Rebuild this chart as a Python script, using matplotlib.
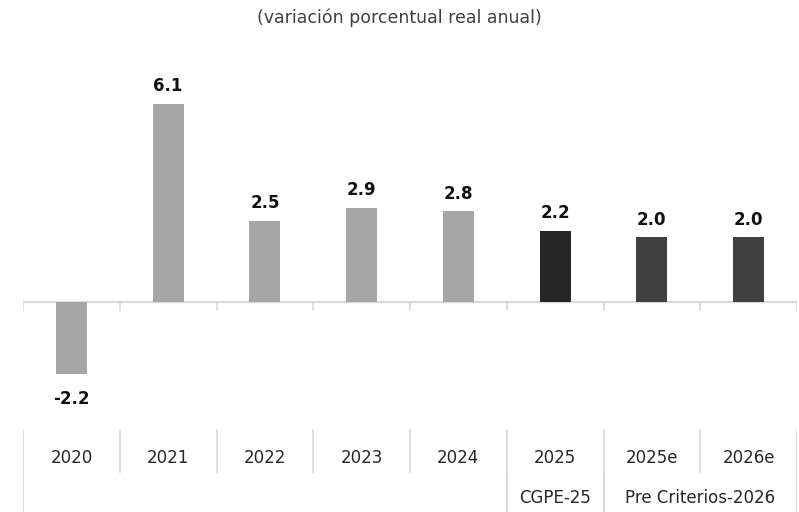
import matplotlib.pyplot as plt

years = ['2020', '2021', '2022', '2023', '2024', '2025', '2025e', '2026e']
growth = [-2.2, 6.1, 2.5, 2.9, 2.8, 2.2, 2.0, 2.0]
bar_colors = ['#a6a6a6'] * 5 + ['#262626', '#404040', '#404040']
# second row: (label, first index, last index)
groups = [('', 0, 4), ('CGPE-25', 5, 5), ('Pre Criterios-2026', 6, 7)]

plt.rcParams['font.family'] = ['DejaVu Sans']

fig = plt.figure(figsize=(7.99, 5.12), dpi=100)
# axes spans from px x=23 to 797, y=60 to 512
ax = fig.add_axes([23 / 799, 0, (797 - 23) / 799, (512 - 60) / 512])

px = 32.5  # pixels per unit


def yv(py):
    # pixel row -> data value
    return (302 - py) / px


n = len(years)
ax.set_xlim(0, n)
ax.set_ylim(yv(512), yv(60))
ax.axis('off')

xs = [i + 0.5 for i in range(n)]
ax.bar(xs, growth, width=0.32, color=bar_colors, zorder=2)

for x, v in zip(xs, growth):
    off = 6 if v >= 0 else -12
    ax.annotate(f'{v:.1f}', (x, v), xytext=(0, off), textcoords='offset points',
                ha='center', va='bottom' if v >= 0 else 'top',
                fontsize=12, fontweight='bold', color='#111111')

line_c = '#d9d9d9'
ax.axhline(0, color=line_c, lw=1.6, zorder=1)
for i in range(n + 1):
    ax.plot([i, i], [0, yv(310)], color=line_c, lw=1.2)
    ax.plot([i, i], [yv(430), yv(472)], color=line_c, lw=1.2)

for x, lab in zip(xs, years):
    ax.text(x, yv(458), lab, ha='center', va='center', fontsize=12, color='#262626')

for lab, a, b in groups:
    ax.plot([a, a], [yv(472), yv(512)], color=line_c, lw=1.2)
    ax.plot([b + 1, b + 1], [yv(472), yv(512)], color=line_c, lw=1.2)
    if lab:
        ax.text((a + b + 1) / 2, yv(498), lab, ha='center', va='center',
                fontsize=12, color='#262626')

fig.text(399 / 799, 1 - 18 / 512, '(variación porcentual real anual)',
         ha='center', va='center', fontsize=12.5, color='#404040')

fig.savefig('out.png', dpi=100)
